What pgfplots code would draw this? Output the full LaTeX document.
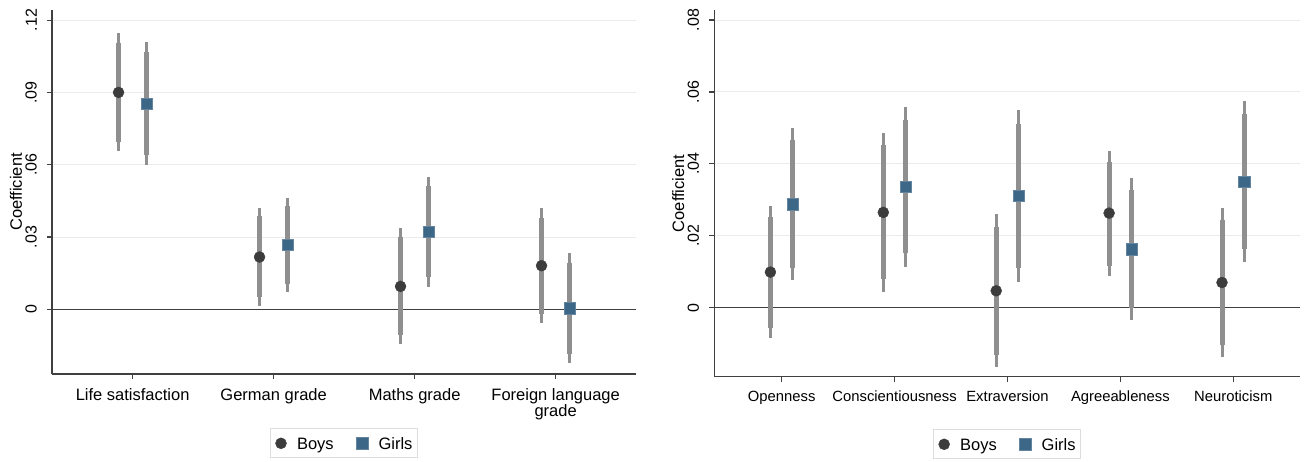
\documentclass[border=0pt]{standalone}
\usepackage{fontspec}
\setmainfont{Liberation Sans}
\usepackage{pgfplots}
\usepackage{pgfplotstable}
\pgfplotsset{compat=1.18}
\definecolor{cigray}{HTML}{8F8F8F}
\definecolor{boyc}{HTML}{3C3C3C}
\definecolor{girlc}{HTML}{3D6787}
\definecolor{axc}{HTML}{404040}
\definecolor{gridc}{HTML}{EBEBEB}
\definecolor{legc}{HTML}{DDDDDD}
\newcommand\fsA{\fontsize{16.5}{16}\selectfont}
\newcommand\fsB{\fontsize{14.8}{16}\selectfont}
\newcommand\fsY{\fontsize{16}{16}\selectfont}

% x  y  thin-lo thin-hi thick-lo thick-hi
\pgfplotstableread{
x y tlo thi klo khi
0.9 0.0900 0.0657 0.1145 0.0695 0.1104
1.9 0.0217 0.0015 0.0419 0.0050 0.0386
2.9 0.0095 -0.0145 0.0336 -0.0107 0.0300
3.9 0.0181 -0.0058 0.0419 -0.0019 0.0378
}\boysL
\pgfplotstableread{
x y tlo thi klo khi
1.1 0.0852 0.0599 0.1110 0.0639 0.1069
2.1 0.0267 0.0073 0.0463 0.0105 0.0430
3.1 0.0321 0.0094 0.0550 0.0133 0.0513
4.1 0.0004 -0.0224 0.0232 -0.0187 0.0191
}\girlsL
\pgfplotstableread{
x y tlo thi klo khi
0.9 0.0099 -0.0085 0.0283 -0.0056 0.0253
1.9 0.0265 0.0045 0.0487 0.0080 0.0452
2.9 0.0047 -0.0164 0.0260 -0.0132 0.0225
3.9 0.0263 0.0088 0.0436 0.0117 0.0406
4.9 0.0070 -0.0136 0.0276 -0.0104 0.0244
}\boysR
\pgfplotstableread{
x y tlo thi klo khi
1.1 0.0288 0.0077 0.0501 0.0111 0.0466
2.1 0.0336 0.0114 0.0557 0.0151 0.0522
3.1 0.0311 0.0071 0.0550 0.0110 0.0511
4.1 0.0162 -0.0034 0.0360 -0.0002 0.0327
5.1 0.0350 0.0126 0.0575 0.0162 0.0538
}\girlsR

\pgfplotsset{
  coefstyle/.style={
    scale only axis,
    scaled y ticks=false,
    axis x line*=bottom, axis y line*=left,
    axis line style={draw=axc, line width=1.3pt, -},
    tick align=outside, major tick length=5pt,
    tick style={draw=axc, line width=1.2pt},
    ymajorgrids, major grid style={draw=gridc, line width=1pt},
    /pgf/number format/assume math mode=true,
    yticklabel style={rotate=90, anchor=south, inner sep=0pt, font=\fsY},
    yticklabel shift=10pt,
    xticklabel style={anchor=north, inner sep=0pt, align=center},
    xticklabel shift=9pt,
    ylabel={Coefficient},
    ylabel style={anchor=base, inner sep=0pt, font=\fsA},
    legend columns=2,
    legend cell align=left,
    legend style={at={(0.5,0)}, anchor=north, draw=legc, line width=1pt,
      inner xsep=5pt, inner ysep=8.5pt, font=\fsA,
      nodes={inner sep=0pt, text height=12pt, text depth=0pt},
      /tikz/every odd column/.append style={column sep=10.5pt},
      /tikz/every even column/.append style={column sep=22.8pt}},
    legend image code/.code={\path[draw=none, fill=none] (-5.5pt,-5.5pt) rectangle (5.5pt,5.5pt);
      \draw[##1] plot coordinates {(0pt,0pt)};},
  },
  thinci/.style={only marks, mark=none, forget plot,
    error bars/.cd, y dir=both, y explicit, error mark=none,
    error bar style={draw=cigray, line width=3pt, line cap=butt}},
  thickci/.style={only marks, mark=none, forget plot,
    error bars/.cd, y dir=both, y explicit, error mark=none,
    error bar style={draw=cigray, line width=5pt, line cap=butt}},
  boym/.style={only marks, mark=*, mark size=5.5pt, color=boyc,
    mark options={draw=boyc, fill=boyc, line width=0.4pt}},
  girlm/.style={only marks, mark=square*, mark size=5.8pt, color=girlc,
    mark options={draw=girlc!80!white, fill=girlc, line width=0.6pt}},
}

\begin{document}
\begin{tikzpicture}
\useasboundingbox (0,0) rectangle (1306pt,-461pt);

% ---------------- left panel ----------------
\begin{axis}[coefstyle,
  at={(52pt,-374pt)}, anchor=south west,
  width=584pt, height=364pt,
  xmin=0.428, xmax=4.57, ymin=-0.02685, ymax=0.1242,
  xtick={1,2,3,4},
  xticklabels={Life satisfaction,German grade,Maths grade,{Foreign language\\grade}},
  xticklabel style={font=\fsA},
  ytick={0,0.03,0.06,0.09,0.12},
  yticklabels={0,.03,.06,.09,.12},
  ylabel style={at={(axis description cs:-0.05137,0.5)}},
  legend style={yshift=-54.3pt},
]
\addplot[forget plot, draw=axc, line width=1.3pt] coordinates {(0.428,0) (4.57,0)};
\addplot[thinci] table[x=x, y=y, y error plus expr=\thisrow{thi}-\thisrow{y}, y error minus expr=\thisrow{y}-\thisrow{tlo}] {\boysL};
\addplot[thinci] table[x=x, y=y, y error plus expr=\thisrow{thi}-\thisrow{y}, y error minus expr=\thisrow{y}-\thisrow{tlo}] {\girlsL};
\addplot[thickci] table[x=x, y=y, y error plus expr=\thisrow{khi}-\thisrow{y}, y error minus expr=\thisrow{y}-\thisrow{klo}] {\boysL};
\addplot[thickci] table[x=x, y=y, y error plus expr=\thisrow{khi}-\thisrow{y}, y error minus expr=\thisrow{y}-\thisrow{klo}] {\girlsL};
\addplot[boym] table[x=x, y=y] {\boysL};
\addlegendentry{Boys}
\addplot[girlm] table[x=x, y=y] {\girlsL};
\addlegendentry{Girls}
\end{axis}

% ---------------- right panel ----------------
\begin{axis}[coefstyle,
  at={(714.3pt,-376.7pt)}, anchor=south west,
  width=585.7pt, height=366.7pt,
  xmin=0.403, xmax=5.591, ymin=-0.0192, ymax=0.0828,
  xtick={1,2,3,4,5},
  xticklabels={Openness,Conscientiousness,Extraversion,Agreeableness,Neuroticism},
  xticklabel style={font=\fsB},
  ytick={0,0.02,0.04,0.06,0.08},
  yticklabels={0,.02,.04,.06,.08},
  ylabel style={at={(axis description cs:-0.0517,0.5)}},
  legend style={yshift=-52.6pt},
]
\addplot[forget plot, draw=axc, line width=1.3pt] coordinates {(0.403,0) (5.591,0)};
\addplot[thinci] table[x=x, y=y, y error plus expr=\thisrow{thi}-\thisrow{y}, y error minus expr=\thisrow{y}-\thisrow{tlo}] {\boysR};
\addplot[thinci] table[x=x, y=y, y error plus expr=\thisrow{thi}-\thisrow{y}, y error minus expr=\thisrow{y}-\thisrow{tlo}] {\girlsR};
\addplot[thickci] table[x=x, y=y, y error plus expr=\thisrow{khi}-\thisrow{y}, y error minus expr=\thisrow{y}-\thisrow{klo}] {\boysR};
\addplot[thickci] table[x=x, y=y, y error plus expr=\thisrow{khi}-\thisrow{y}, y error minus expr=\thisrow{y}-\thisrow{klo}] {\girlsR};
\addplot[boym] table[x=x, y=y] {\boysR};
\addlegendentry{Boys}
\addplot[girlm] table[x=x, y=y] {\girlsR};
\addlegendentry{Girls}
\end{axis}
\end{tikzpicture}
\end{document}
